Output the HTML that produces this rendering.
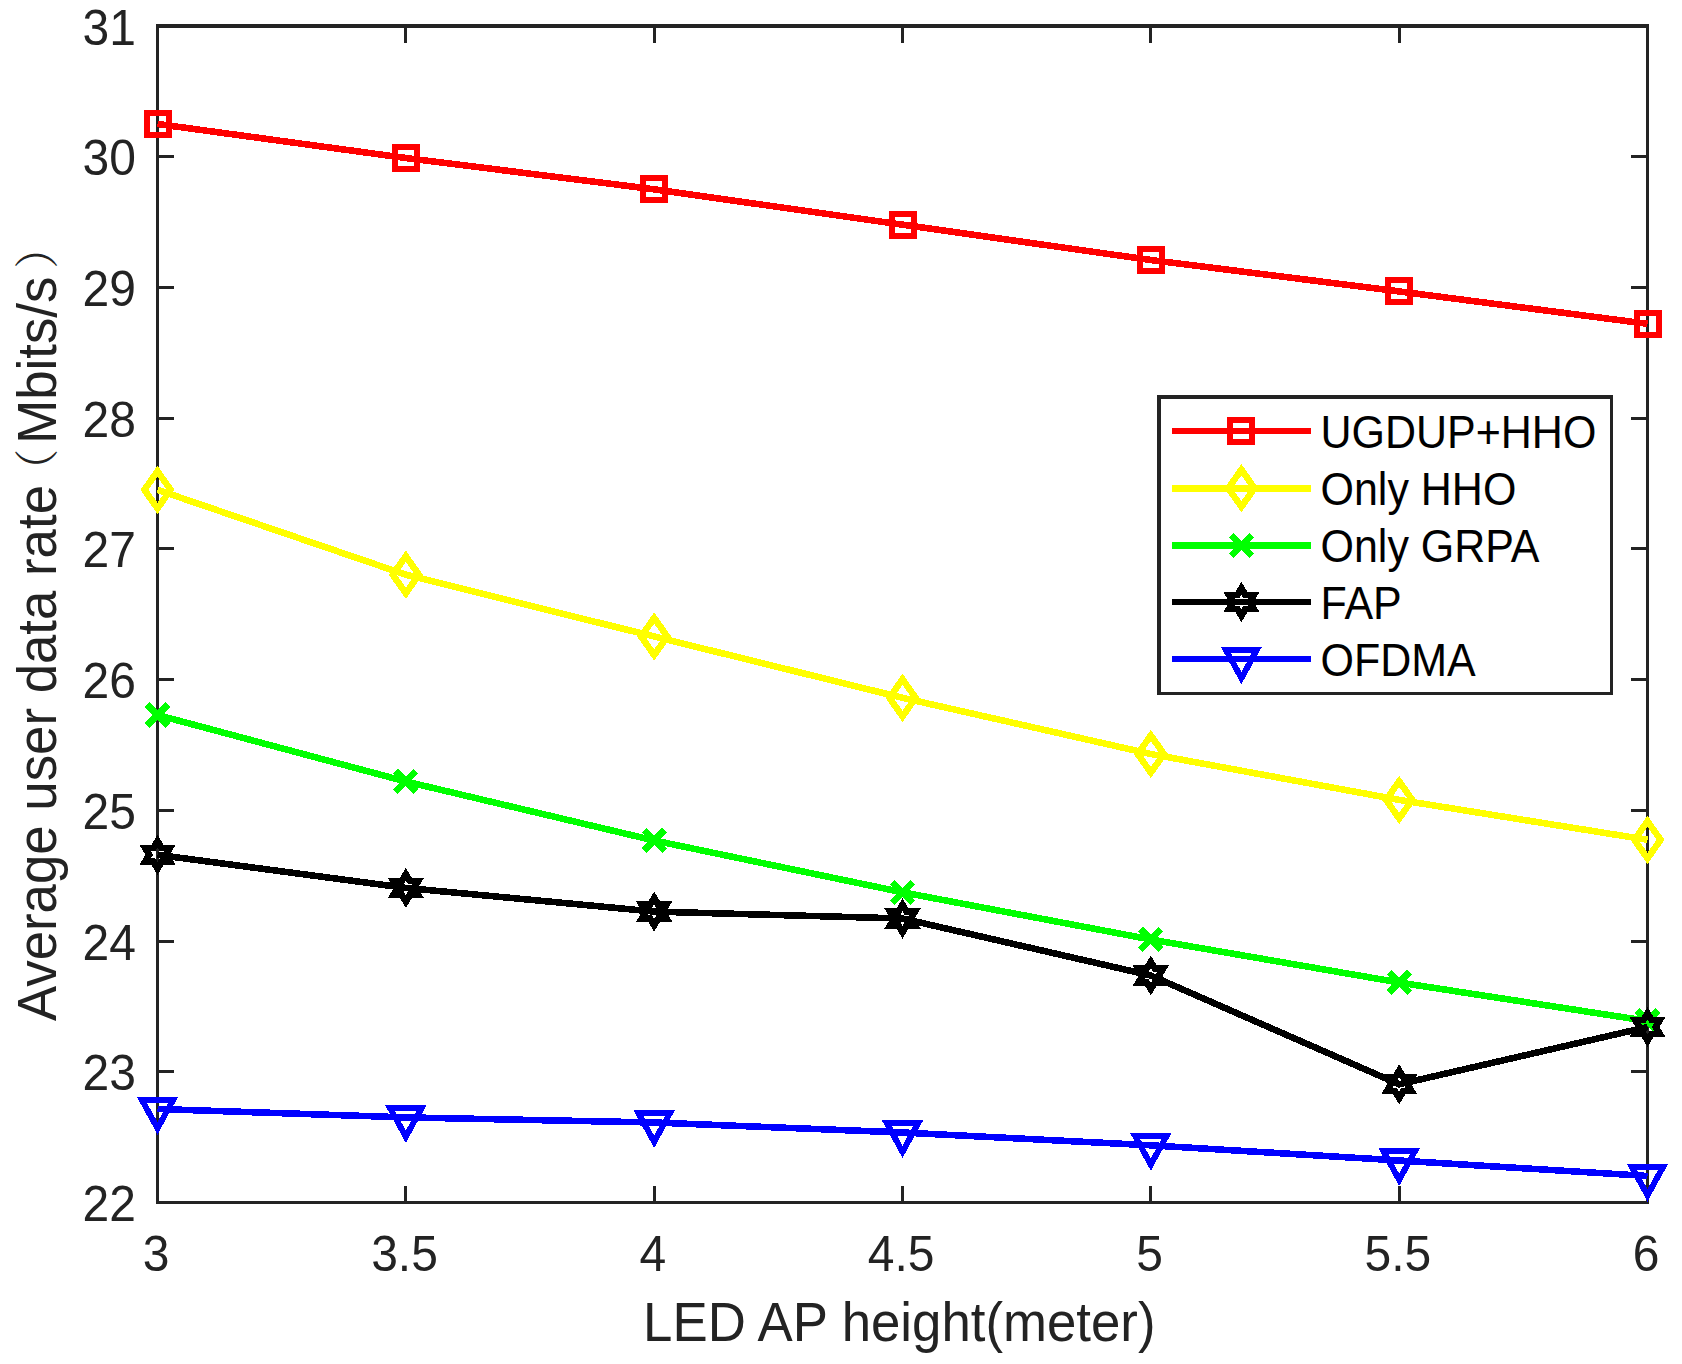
<!DOCTYPE html>
<html><head><meta charset="utf-8"><title>Average user data rate vs LED AP height</title>
<style>
html,body{margin:0;padding:0;background:#fff;}
body{width:1682px;height:1364px;overflow:hidden;}
svg{display:block;}
text{font-family:"Liberation Sans","Noto Serif CJK SC",sans-serif;}
.tk{font-size:48px;fill:#232323;}
.lb{font-size:52.8px;fill:#232323;}
.lg{font-size:43px;fill:#000;}
.cj{font-family:"Noto Serif CJK SC","Noto Sans CJK SC",serif;font-size:43px;}
</style></head><body>
<svg width="1682" height="1364" viewBox="0 0 1682 1364">
<rect x="0" y="0" width="1682" height="1364" fill="#ffffff"/>

<g shape-rendering="crispEdges" fill="#232323">
<rect x="156" y="24" width="1493" height="4"/>
<rect x="156" y="1201" width="1493" height="3"/>
<rect x="156" y="24" width="3" height="1180"/>
<rect x="1646" y="24" width="3" height="1180"/>
<rect x="404" y="1186" width="3" height="15"/>
<rect x="404" y="28" width="3" height="15"/>
<rect x="653" y="1186" width="3" height="15"/>
<rect x="653" y="28" width="3" height="15"/>
<rect x="901" y="1186" width="3" height="15"/>
<rect x="901" y="28" width="3" height="15"/>
<rect x="1149" y="1186" width="3" height="15"/>
<rect x="1149" y="28" width="3" height="15"/>
<rect x="1398" y="1186" width="3" height="15"/>
<rect x="1398" y="28" width="3" height="15"/>
<rect x="159" y="1070" width="15" height="3"/>
<rect x="1631" y="1070" width="15" height="3"/>
<rect x="159" y="940" width="15" height="3"/>
<rect x="1631" y="940" width="15" height="3"/>
<rect x="159" y="809" width="15" height="3"/>
<rect x="1631" y="809" width="15" height="3"/>
<rect x="159" y="678" width="15" height="3"/>
<rect x="1631" y="678" width="15" height="3"/>
<rect x="159" y="547" width="15" height="3"/>
<rect x="1631" y="547" width="15" height="3"/>
<rect x="159" y="417" width="15" height="3"/>
<rect x="1631" y="417" width="15" height="3"/>
<rect x="159" y="286" width="15" height="3"/>
<rect x="1631" y="286" width="15" height="3"/>
<rect x="159" y="155" width="15" height="3"/>
<rect x="1631" y="155" width="15" height="3"/>
</g>
<text class="tk" transform="translate(156.2,1270.5) scale(1,1.041)" text-anchor="middle">3</text>
<text class="tk" transform="translate(404.53,1270.5) scale(1,1.041)" text-anchor="middle">3.5</text>
<text class="tk" transform="translate(652.87,1270.5) scale(1,1.041)" text-anchor="middle">4</text>
<text class="tk" transform="translate(901.2,1270.5) scale(1,1.041)" text-anchor="middle">4.5</text>
<text class="tk" transform="translate(1149.53,1270.5) scale(1,1.041)" text-anchor="middle">5</text>
<text class="tk" transform="translate(1397.87,1270.5) scale(1,1.041)" text-anchor="middle">5.5</text>
<text class="tk" transform="translate(1646.2,1270.5) scale(1,1.041)" text-anchor="middle">6</text>
<text class="tk" transform="translate(136,1221.1) scale(1,1.041)" text-anchor="end">22</text>
<text class="tk" transform="translate(136,1090.38) scale(1,1.041)" text-anchor="end">23</text>
<text class="tk" transform="translate(136,959.66) scale(1,1.041)" text-anchor="end">24</text>
<text class="tk" transform="translate(136,828.93) scale(1,1.041)" text-anchor="end">25</text>
<text class="tk" transform="translate(136,698.21) scale(1,1.041)" text-anchor="end">26</text>
<text class="tk" transform="translate(136,567.49) scale(1,1.041)" text-anchor="end">27</text>
<text class="tk" transform="translate(136,436.77) scale(1,1.041)" text-anchor="end">28</text>
<text class="tk" transform="translate(136,306.04) scale(1,1.041)" text-anchor="end">29</text>
<text class="tk" transform="translate(136,175.32) scale(1,1.041)" text-anchor="end">30</text>
<text class="tk" transform="translate(136,44.6) scale(1,1.041)" text-anchor="end">31</text>
<text class="lb" transform="translate(899.3,1341) scale(1,1.041)" text-anchor="middle">LED AP height(meter)</text>
<text class="lb" transform="translate(56.1,1021) rotate(-90) scale(1,1.041)"><tspan x="0" y="0">Average user data rate</tspan><tspan class="cj" x="529.3" y="-2.6">（</tspan><tspan x="577.2" y="0">Mbits/s</tspan><tspan class="cj" x="752.2" y="-2.6">）</tspan></text>
<g shape-rendering="crispEdges">
<polyline points="157.5,124 405.83,158 654.17,189.3 902.5,224.7 1150.83,260 1399.17,291.4 1647.5,323.8" fill="none" stroke="#ff0000" stroke-width="6.6" stroke-linejoin="round"/>
<rect x="146.5" y="113" width="22" height="22" fill="none" stroke="#ff0000" stroke-width="6"/>
<rect x="394.83" y="147" width="22" height="22" fill="none" stroke="#ff0000" stroke-width="6"/>
<rect x="643.17" y="178.3" width="22" height="22" fill="none" stroke="#ff0000" stroke-width="6"/>
<rect x="891.5" y="213.7" width="22" height="22" fill="none" stroke="#ff0000" stroke-width="6"/>
<rect x="1139.83" y="249" width="22" height="22" fill="none" stroke="#ff0000" stroke-width="6"/>
<rect x="1388.17" y="280.4" width="22" height="22" fill="none" stroke="#ff0000" stroke-width="6"/>
<rect x="1636.5" y="312.8" width="22" height="22" fill="none" stroke="#ff0000" stroke-width="6"/>
<polyline points="157.5,489.8 405.83,574.7 654.17,636.5 902.5,697.8 1150.83,754 1399.17,799.9 1647.5,839.8" fill="none" stroke="#ffff00" stroke-width="6.6" stroke-linejoin="round"/>
<polygon points="157.5,471.3 170.6,489.8 157.5,508.3 144.4,489.8" fill="none" stroke="#ffff00" stroke-width="6.6" stroke-linejoin="miter"/>
<polygon points="405.83,556.2 418.93,574.7 405.83,593.2 392.73,574.7" fill="none" stroke="#ffff00" stroke-width="6.6" stroke-linejoin="miter"/>
<polygon points="654.17,618 667.27,636.5 654.17,655 641.07,636.5" fill="none" stroke="#ffff00" stroke-width="6.6" stroke-linejoin="miter"/>
<polygon points="902.5,679.3 915.6,697.8 902.5,716.3 889.4,697.8" fill="none" stroke="#ffff00" stroke-width="6.6" stroke-linejoin="miter"/>
<polygon points="1150.83,735.5 1163.93,754 1150.83,772.5 1137.73,754" fill="none" stroke="#ffff00" stroke-width="6.6" stroke-linejoin="miter"/>
<polygon points="1399.17,781.4 1412.27,799.9 1399.17,818.4 1386.07,799.9" fill="none" stroke="#ffff00" stroke-width="6.6" stroke-linejoin="miter"/>
<polygon points="1647.5,821.3 1660.6,839.8 1647.5,858.3 1634.4,839.8" fill="none" stroke="#ffff00" stroke-width="6.6" stroke-linejoin="miter"/>
<polyline points="157.5,715 405.83,781.5 654.17,840.5 902.5,892.3 1150.83,939.5 1399.17,982.5 1647.5,1021" fill="none" stroke="#00ff00" stroke-width="6.6" stroke-linejoin="round"/>
<path d="M147.2,704.7L167.8,725.3M147.2,725.3L167.8,704.7" fill="none" stroke="#00ff00" stroke-width="6.6"/>
<path d="M395.53,771.2L416.13,791.8M395.53,791.8L416.13,771.2" fill="none" stroke="#00ff00" stroke-width="6.6"/>
<path d="M643.87,830.2L664.47,850.8M643.87,850.8L664.47,830.2" fill="none" stroke="#00ff00" stroke-width="6.6"/>
<path d="M892.2,882L912.8,902.6M892.2,902.6L912.8,882" fill="none" stroke="#00ff00" stroke-width="6.6"/>
<path d="M1140.53,929.2L1161.13,949.8M1140.53,949.8L1161.13,929.2" fill="none" stroke="#00ff00" stroke-width="6.6"/>
<path d="M1388.87,972.2L1409.47,992.8M1388.87,992.8L1409.47,972.2" fill="none" stroke="#00ff00" stroke-width="6.6"/>
<path d="M1637.2,1010.7L1657.8,1031.3M1637.2,1031.3L1657.8,1010.7" fill="none" stroke="#00ff00" stroke-width="6.6"/>
<polyline points="157.5,854.8 405.83,887.9 654.17,911.6 902.5,918.5 1150.83,975.5 1399.17,1084.3 1647.5,1027" fill="none" stroke="#000000" stroke-width="6.6" stroke-linejoin="round"/>
<polygon points="157.5,841.1 153.39,847.95 145.16,847.95 149.27,854.8 145.16,861.65 153.39,861.65 157.5,868.5 161.61,861.65 169.84,861.65 165.73,854.8 169.84,847.95 161.61,847.95" fill="none" stroke="#000000" stroke-width="6.6" stroke-linejoin="miter" stroke-miterlimit="10"/>
<polygon points="405.83,874.2 401.72,881.05 393.49,881.05 397.61,887.9 393.49,894.75 401.72,894.75 405.83,901.6 409.95,894.75 418.17,894.75 414.06,887.9 418.17,881.05 409.95,881.05" fill="none" stroke="#000000" stroke-width="6.6" stroke-linejoin="miter" stroke-miterlimit="10"/>
<polygon points="654.17,897.9 650.05,904.75 641.83,904.75 645.94,911.6 641.83,918.45 650.05,918.45 654.17,925.3 658.28,918.45 666.51,918.45 662.39,911.6 666.51,904.75 658.28,904.75" fill="none" stroke="#000000" stroke-width="6.6" stroke-linejoin="miter" stroke-miterlimit="10"/>
<polygon points="902.5,904.8 898.39,911.65 890.16,911.65 894.27,918.5 890.16,925.35 898.39,925.35 902.5,932.2 906.61,925.35 914.84,925.35 910.73,918.5 914.84,911.65 906.61,911.65" fill="none" stroke="#000000" stroke-width="6.6" stroke-linejoin="miter" stroke-miterlimit="10"/>
<polygon points="1150.83,961.8 1146.72,968.65 1138.49,968.65 1142.61,975.5 1138.49,982.35 1146.72,982.35 1150.83,989.2 1154.95,982.35 1163.17,982.35 1159.06,975.5 1163.17,968.65 1154.95,968.65" fill="none" stroke="#000000" stroke-width="6.6" stroke-linejoin="miter" stroke-miterlimit="10"/>
<polygon points="1399.17,1070.6 1395.05,1077.45 1386.83,1077.45 1390.94,1084.3 1386.83,1091.15 1395.05,1091.15 1399.17,1098 1403.28,1091.15 1411.51,1091.15 1407.39,1084.3 1411.51,1077.45 1403.28,1077.45" fill="none" stroke="#000000" stroke-width="6.6" stroke-linejoin="miter" stroke-miterlimit="10"/>
<polygon points="1647.5,1013.3 1643.39,1020.15 1635.16,1020.15 1639.27,1027 1635.16,1033.85 1643.39,1033.85 1647.5,1040.7 1651.61,1033.85 1659.84,1033.85 1655.73,1027 1659.84,1020.15 1651.61,1020.15" fill="none" stroke="#000000" stroke-width="6.6" stroke-linejoin="miter" stroke-miterlimit="10"/>
<polyline points="157.5,1109 405.83,1117.4 654.17,1122.5 902.5,1132.5 1150.83,1145.3 1399.17,1160.5 1647.5,1176" fill="none" stroke="#0000ff" stroke-width="6.6" stroke-linejoin="round"/>
<polygon points="141.8,1099.7 173.2,1099.7 157.5,1128.3" fill="none" stroke="#0000ff" stroke-width="6" stroke-linejoin="miter" stroke-miterlimit="10"/>
<polygon points="390.13,1108.1 421.53,1108.1 405.83,1136.7" fill="none" stroke="#0000ff" stroke-width="6" stroke-linejoin="miter" stroke-miterlimit="10"/>
<polygon points="638.47,1113.2 669.87,1113.2 654.17,1141.8" fill="none" stroke="#0000ff" stroke-width="6" stroke-linejoin="miter" stroke-miterlimit="10"/>
<polygon points="886.8,1123.2 918.2,1123.2 902.5,1151.8" fill="none" stroke="#0000ff" stroke-width="6" stroke-linejoin="miter" stroke-miterlimit="10"/>
<polygon points="1135.13,1136 1166.53,1136 1150.83,1164.6" fill="none" stroke="#0000ff" stroke-width="6" stroke-linejoin="miter" stroke-miterlimit="10"/>
<polygon points="1383.47,1151.2 1414.87,1151.2 1399.17,1179.8" fill="none" stroke="#0000ff" stroke-width="6" stroke-linejoin="miter" stroke-miterlimit="10"/>
<polygon points="1631.8,1166.7 1663.2,1166.7 1647.5,1195.3" fill="none" stroke="#0000ff" stroke-width="6" stroke-linejoin="miter" stroke-miterlimit="10"/>
</g>
<g shape-rendering="crispEdges">
<rect x="1157" y="395" width="456" height="300" fill="#232323"/>
<rect x="1161" y="399" width="449" height="293" fill="#ffffff"/>
<line x1="1172" y1="431.1" x2="1311" y2="431.1" stroke="#ff0000" stroke-width="6.6"/>
<rect x="1230.4" y="420.1" width="22" height="22" fill="none" stroke="#ff0000" stroke-width="6"/>
<line x1="1172" y1="488.2" x2="1311" y2="488.2" stroke="#ffff00" stroke-width="6.6"/>
<polygon points="1241.4,469.7 1254.5,488.2 1241.4,506.7 1228.3,488.2" fill="none" stroke="#ffff00" stroke-width="6.6" stroke-linejoin="miter"/>
<line x1="1172" y1="545.3" x2="1311" y2="545.3" stroke="#00ff00" stroke-width="6.6"/>
<path d="M1231.1,535L1251.7,555.6M1231.1,555.6L1251.7,535" fill="none" stroke="#00ff00" stroke-width="6.6"/>
<line x1="1172" y1="602.0" x2="1311" y2="602.0" stroke="#000000" stroke-width="6.6"/>
<polygon points="1241.4,588.3 1237.29,595.15 1229.06,595.15 1233.17,602 1229.06,608.85 1237.29,608.85 1241.4,615.7 1245.51,608.85 1253.74,608.85 1249.63,602 1253.74,595.15 1245.51,595.15" fill="none" stroke="#000000" stroke-width="6.6" stroke-linejoin="miter" stroke-miterlimit="10"/>
<line x1="1172" y1="658.8" x2="1311" y2="658.8" stroke="#0000ff" stroke-width="6.6"/>
<polygon points="1225.7,649.5 1257.1,649.5 1241.4,678.1" fill="none" stroke="#0000ff" stroke-width="6" stroke-linejoin="miter" stroke-miterlimit="10"/>
</g>
<text class="lg" transform="translate(1320.5,447.8) scale(1,1.075)" text-anchor="start">UGDUP+HHO</text>
<text class="lg" transform="translate(1320.5,504.9) scale(1,1.075)" text-anchor="start">Only HHO</text>
<text class="lg" transform="translate(1320.5,562) scale(1,1.075)" text-anchor="start">Only GRPA</text>
<text class="lg" transform="translate(1320.5,618.7) scale(1,1.075)" text-anchor="start">FAP</text>
<text class="lg" transform="translate(1320.5,675.5) scale(1,1.075)" text-anchor="start">OFDMA</text>
</svg></body></html>
